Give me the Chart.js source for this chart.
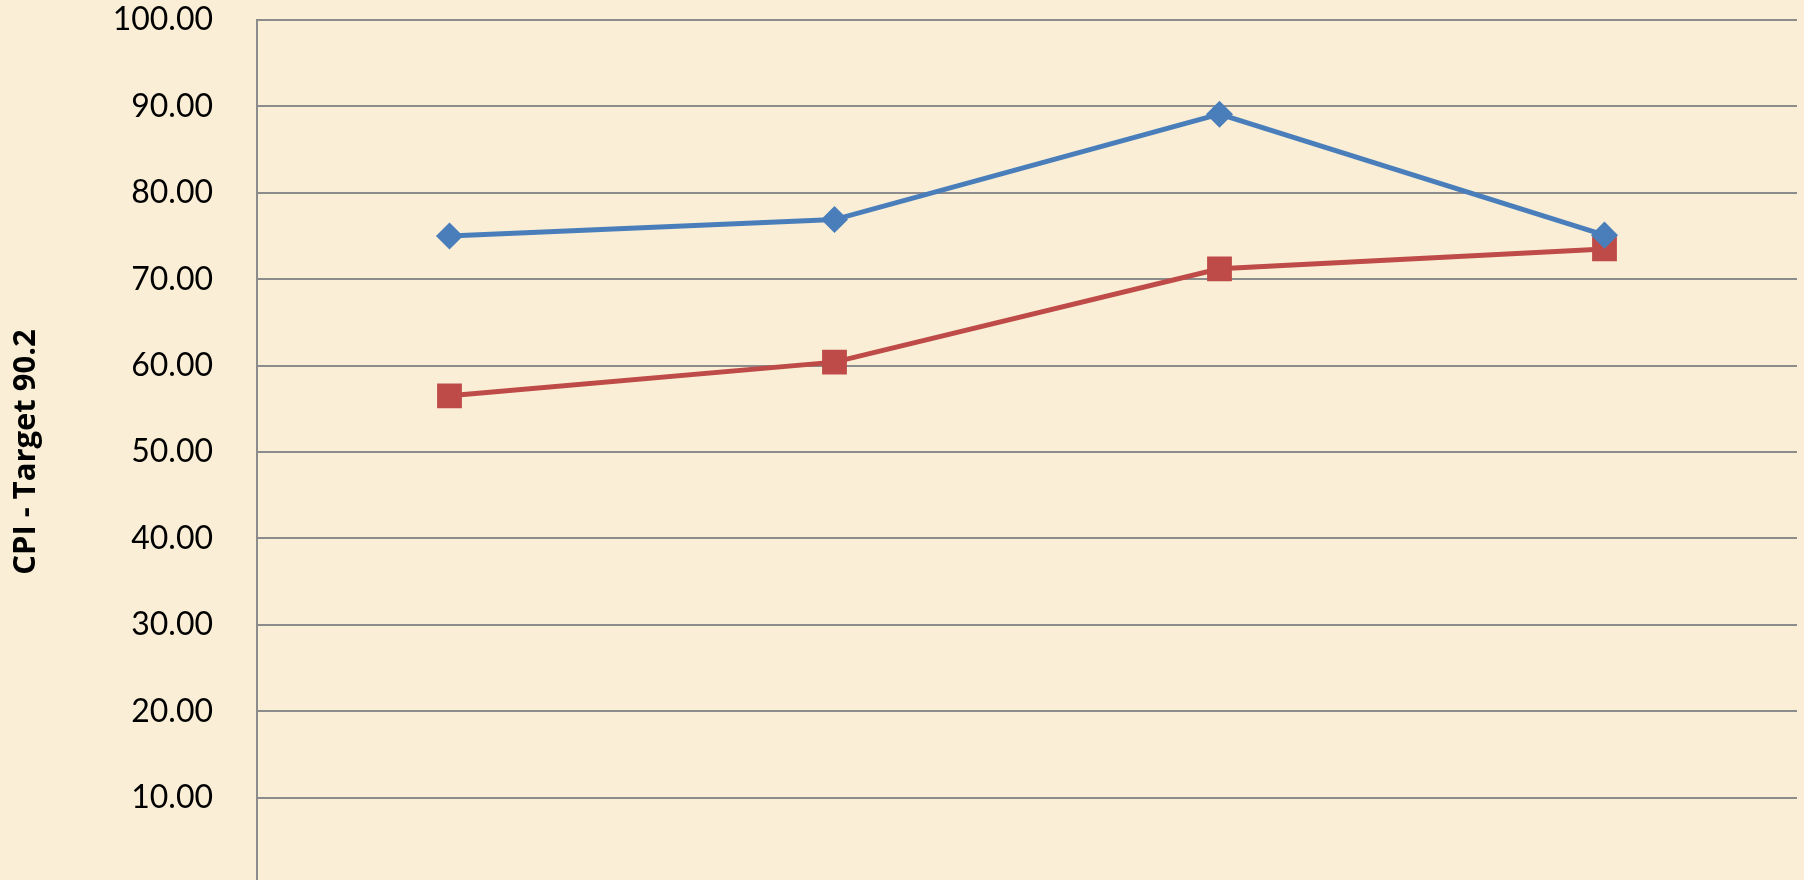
<!DOCTYPE html>
<html>
<head>
<meta charset="utf-8">
<script src="https://cdn.jsdelivr.net/npm/chart.js@4/dist/chart.umd.min.js"></script>
<style>
    html, body { margin: 0; padding: 0; overflow: hidden; background: #FAEFD6; }
</style>
</head>
<body>
<canvas id="chart-area" width="1804" height="900"></canvas>
<script>
var categories = ['Q1', 'Q2', 'Q3', 'Q4'];
var seriesBlue = [75.0, 76.9, 89.1, 75.1];
var seriesRed = [56.5, 60.4, 71.2, 73.5];
var yTicks = [0, 10, 20, 30, 40, 50, 60, 70, 80, 90, 100];
var yTitle = 'CPI - Target 90.2';

var bgPlugin = {
    id: 'bg',
    beforeDraw: function (chart) {
        var ctx = chart.ctx;
        ctx.save();
        ctx.fillStyle = '#FAEFD6';
        ctx.fillRect(0, 0, chart.width, chart.height);
        ctx.restore();
    }
};

var config = {
    type: 'line',
    data: {
        labels: categories,
        datasets: [{
            label: 'Series 1',
            data: seriesBlue,
            borderColor: '#4A7EBB',
            backgroundColor: '#4A7EBB',
            borderWidth: 5,
            pointStyle: 'rectRot',
            pointRadius: 10,
            pointHoverRadius: 10,
            tension: 0
        }, {
            label: 'Series 2',
            data: seriesRed,
            borderColor: '#BE4B48',
            backgroundColor: '#BE4B48',
            borderWidth: 5,
            pointStyle: 'rect',
            pointRadius: 14,
            pointHoverRadius: 14,
            tension: 0
        }]
    },
    options: {
        responsive: false,
        animation: false,
        layout: {autoPadding: false, padding: {top: 20, right: 7, bottom: 16, left: 0}},
        plugins: {legend: {display: false}, tooltip: {enabled: false}},
        scales: {
            x: {
                offset: true,
                grid: {display: false},
                border: {display: false},
                ticks: {display: false},
                afterFit: function (scale) {
                    scale.height = 0;
                    scale.paddingLeft = 0;
                    scale.paddingRight = 0;
                }
            },
            y: {
                min: 0,
                max: 100,
                afterBuildTicks: function (scale) {
                    scale.ticks = yTicks.map(function (v) { return {value: v}; });
                },
                afterFit: function (scale) {
                    scale.width = 257;
                    scale.paddingTop = 0;
                    scale.paddingBottom = 0;
                },
                grid: {color: '#8C8C8C', lineWidth: 2, drawTicks: false},
                border: {display: true, color: '#8C8C8C', width: 2},
                ticks: {
                    padding: 44,
                    color: '#000',
                    font: {family: 'Lato', size: 32},
                    callback: function (v) { return v === 0 ? '' : v.toFixed(2); }
                },
                title: {
                    display: true,
                    text: yTitle,
                    color: '#000',
                    padding: {top: 8, bottom: 0},
                    font: {family: 'Open Sans', size: 31, weight: 'bold'}
                }
            }
        }
    },
    plugins: [bgPlugin]
};

var ctx = document.getElementById('chart-area').getContext('2d');
var myChart = new Chart(ctx, config);
</script>
</body>
</html>
